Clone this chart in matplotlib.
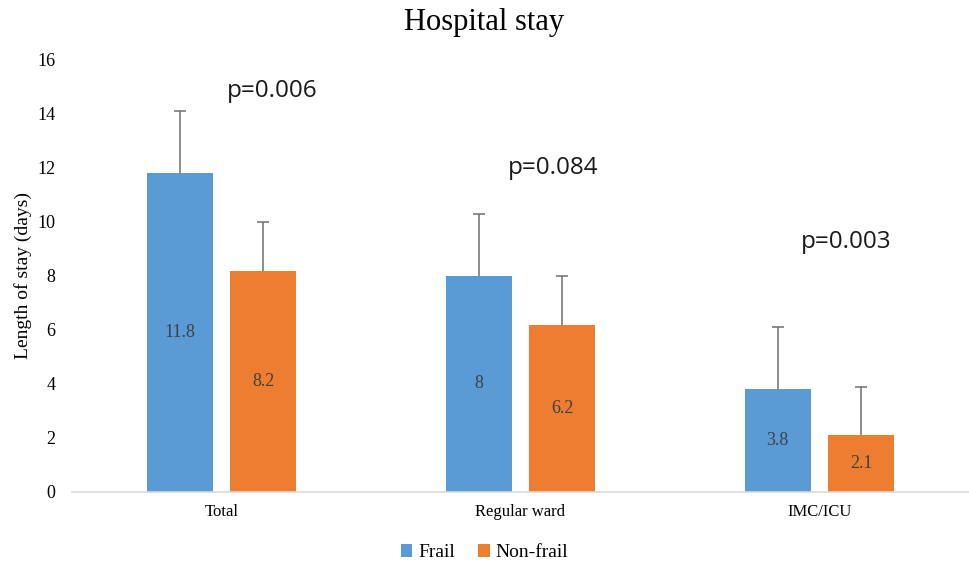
import numpy as np
import matplotlib
matplotlib.use("Agg")
import matplotlib.pyplot as plt

categories = ["Total", "Regular ward", "IMC/ICU"]
frail = [11.8, 8.0, 3.8]
nonfrail = [8.2, 6.2, 2.1]
frail_err = [2.3, 2.3, 2.3]
nonfrail_err = [1.8, 1.8, 1.8]
frail_labels = ["11.8", "8", "3.8"]
nonfrail_labels = ["8.2", "6.2", "2.1"]
pvalues = ["p=0.006", "p=0.084", "p=0.003"]
p_x = [0.17, 1.11, 2.09]
p_y = [14.85, 12.0, 9.25]

plt.rcParams['font.family'] = ['Liberation Serif', 'DejaVu Serif']

fig = plt.figure(figsize=(9.69, 5.62), dpi=100)
ax = fig.add_axes([0.0743, 0.1246, 0.9257, 0.7687])

x = np.arange(len(categories))
w = 0.22
off = 0.14
blue = "#5B9BD5"
orange = "#ED7D31"
ecol = "#6e6e6e"

ax.bar(x - off, frail, w, color=blue, label="Frail")
ax.bar(x + off, nonfrail, w, color=orange, label="Non-frail")

# upper error bars only (no cap at the bar top)
for xs, vals, errs in [(x - off, frail, frail_err), (x + off, nonfrail, nonfrail_err)]:
    tops = np.array(vals) + np.array(errs)
    ax.vlines(xs, vals, tops, color=ecol, linewidth=1.1)
    ax.plot(xs, tops, linestyle="none", marker="_", markersize=8,
            markeredgewidth=1.1, color=ecol)

for i in range(len(categories)):
    ax.text(x[i] - off, frail[i] / 2, frail_labels[i], ha="center", va="center",
            fontsize=13, color="#404040")
    ax.text(x[i] + off, nonfrail[i] / 2, nonfrail_labels[i], ha="center", va="center",
            fontsize=13, color="#404040")
    ax.text(p_x[i], p_y[i], pvalues[i], ha="center", va="center",
            fontsize=17.5, family=["Open Sans", "DejaVu Sans"], color="#1a1a1a")

ax.set_xlim(-0.5, 2.5)
ax.set_ylim(0, 16)
ax.set_yticks(range(0, 17, 2))
ax.set_xticks(x)
ax.set_xticklabels(categories, fontsize=12)
ax.tick_params(axis="y", labelsize=13, length=0, pad=12)
ax.tick_params(axis="x", length=0, pad=9)
for s in ["top", "right", "left"]:
    ax.spines[s].set_visible(False)
ax.spines["bottom"].set_color("#d9d9d9")
ax.spines["bottom"].set_linewidth(1.2)

ax.set_ylabel("Length of stay (days)", fontsize=14, labelpad=4)
fig.suptitle("Hospital stay", fontsize=22, y=0.985)

fig.legend(loc="lower center", bbox_to_anchor=(0.5, -0.03), ncol=2, frameon=False,
           fontsize=14, handlelength=0.6, handleheight=0.6, handletextpad=0.3,
           columnspacing=1.2)

fig.savefig("out.png", dpi=100)
